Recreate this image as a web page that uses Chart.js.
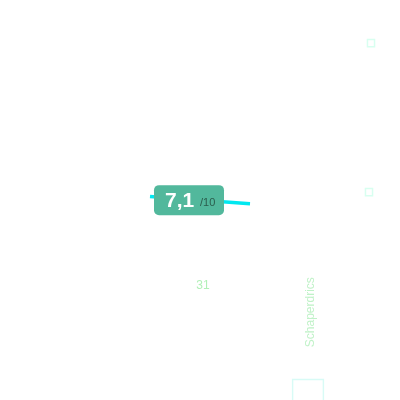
<!DOCTYPE html>
<html>
<head>
<meta charset="utf-8">
<script src="https://cdn.jsdelivr.net/npm/chart.js@4"></script>
<style>
    body { margin: 0; background: #fff; }
    canvas { display: block; }
</style>
</head>
<body>
<canvas id="ratingChart" width="400" height="400"></canvas>
<script>
// Values
const trendX = [3, 5];
const trendY = [7.22, 6.97];
const rating = "7,1";
const ratingMax = "/10";
const votes = "31";
const sideLabel = "Schaperdrics";
const markerX = [7.42, 7.38];
const markerY = [12.67, 7.38];
const barX = [6.16];
const barY = [0.75];

// Plugin that draws the badge and the faint labels
const badgePlugin = {
    id: "badge",
    afterDatasetsDraw(chart) {
        const ctx = chart.ctx;
        const xs = chart.scales.x;
        const ys = chart.scales.y;
        const cx = xs.getPixelForValue(trendX[0]) + 38;
        const cy = ys.getPixelForValue((trendY[0] + trendY[1]) / 2);

        // badge
        ctx.save();
        ctx.fillStyle = "#52b89c";
        ctx.beginPath();
        ctx.roundRect(cx - 34, cy - 15, 70, 30, 5);
        ctx.fill();
        ctx.fillStyle = "#ffffff";
        ctx.font = "bold 21px 'Liberation Sans', Arial, sans-serif";
        ctx.textBaseline = "middle";
        ctx.textAlign = "left";
        ctx.fillText(rating, cx - 23, cy + 1);
        ctx.fillStyle = "#2b5d4d";
        ctx.font = "11px 'Liberation Sans', Arial, sans-serif";
        ctx.fillText(ratingMax, cx + 12, cy + 3);

        // votes
        ctx.fillStyle = "#b2f0b8";
        ctx.font = "12px 'Liberation Sans', Arial, sans-serif";
        ctx.textAlign = "center";
        ctx.fillText(votes, cx + 15, cy + 86);

        // rotated side label
        ctx.translate(cx + 123, cy + 112);
        ctx.rotate(-Math.PI / 2);
        ctx.fillStyle = "#c0f2c8";
        ctx.font = "12px 'Liberation Sans', Arial, sans-serif";
        ctx.fillText(sideLabel, 0, 0);
        ctx.restore();
    }
};

new Chart(document.getElementById("ratingChart").getContext("2d"), {
    data: {
        datasets: [
            {
                type: "line",
                data: trendX.map((x, i) => ({ x, y: trendY[i] })),
                borderColor: "#00e8f0",
                borderWidth: 3.5,
                pointRadius: 0,
                tension: 0
            },
            {
                type: "scatter",
                data: markerX.map((x, i) => ({ x, y: markerY[i] })),
                pointStyle: "rect",
                pointRadius: 5,
                borderWidth: 1.5,
                borderColor: "#d8fff0",
                backgroundColor: "#ffffff"
            },
            {
                type: "bar",
                data: barX.map((x, i) => ({ x, y: barY[i] })),
                barThickness: 32,
                borderWidth: 1,
                borderSkipped: "bottom",
                borderColor: "#d8fbf6",
                backgroundColor: "rgba(255,255,255,0)"
            }
        ]
    },
    options: {
        responsive: false,
        animation: false,
        devicePixelRatio: 1,
        layout: { padding: 0, autoPadding: false },
        scales: {
            x: { type: "linear", min: 0, max: 8, offset: false, display: false },
            y: { type: "linear", min: 0, max: 14.2, display: false }
        },
        plugins: {
            legend: { display: false },
            tooltip: { enabled: false }
        }
    },
    plugins: [badgePlugin]
});
</script>
</body>
</html>
